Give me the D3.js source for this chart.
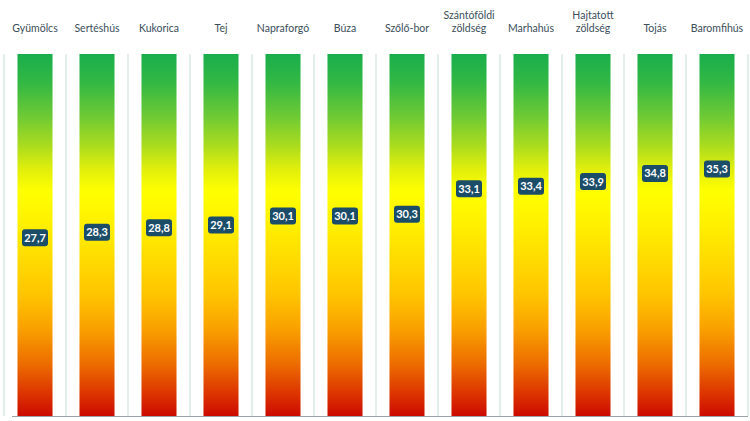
<!DOCTYPE html>
<html>
<head>
<meta charset="utf-8">
<script src="https://cdn.jsdelivr.net/npm/d3@7"></script>
<style>
  html, body { margin: 0; padding: 0; background: #ffffff; }
  svg { display: block; }
</style>
</head>
<body>
<svg id="chart" width="750" height="421"></svg>
<script>
const categories = ["Gyümölcs", "Sertéshús", "Kukorica", "Tej", "Napraforgó", "Búza", "Szőlő-bor", "Szántóföldi zöldség", "Marhahús", "Hajtatott zöldség", "Tojás", "Baromfihús"];
const values = [27.7, 28.3, 28.8, 29.1, 30.1, 30.1, 30.3, 33.1, 33.4, 33.9, 34.8, 35.3];
const valueDomain = [8, 48];

(function () {
const svg = d3.select("#chart");
const plotTop = 54, plotBottom = 416, plotLeft = 4, plotRight = 748;

const x = d3.scaleBand().domain(categories).range([plotLeft, plotRight]).paddingInner(0.435).paddingOuter(0.2175);
const y = d3.scaleLinear().domain(valueDomain).range([plotBottom, plotTop]);
const step = x.step();

// gradient
const defs = svg.append("defs");
const grad = defs.append("linearGradient")
  .attr("id", "g").attr("x1", 0).attr("y1", 0).attr("x2", 0).attr("y2", 1);
const stops = [
  [0, "#19ae4c"], [0.08, "#33b844"], [0.17, "#6cc934"], [0.25, "#a8db1f"], [0.32, "#e2ef0b"],
  [0.38, "#ffff00"], [0.46, "#fff200"], [0.54, "#ffe100"], [0.66, "#ffc600"], [0.76, "#f9a000"],
  [0.86, "#ec6a00"], [0.95, "#da2c00"], [1, "#cc0a00"]
];
grad.selectAll("stop").data(stops).join("stop")
  .attr("offset", d => d[0]).attr("stop-color", d => d[1]);

// separators
const seps = d3.range(categories.length + 1).map(i => plotLeft + i * step);
svg.append("g").selectAll("line").data(seps).join("line")
  .attr("x1", d => d).attr("x2", d => d)
  .attr("y1", plotTop).attr("y2", plotBottom)
  .attr("stroke", "#cfe2df").attr("stroke-width", 1.2);

// bars
svg.append("g").selectAll("rect").data(categories).join("rect")
  .attr("x", d => x(d)).attr("width", x.bandwidth())
  .attr("y", y(valueDomain[1])).attr("height", y(valueDomain[0]) - y(valueDomain[1]))
  .attr("fill", "url(#g)");

// axis line
svg.append("line").attr("x1", plotLeft + 8).attr("x2", plotRight).attr("y1", plotBottom + 0.5).attr("y2", plotBottom + 0.5)
  .attr("stroke", "#9aa4a8").attr("stroke-width", 1.2);

// category labels
const lab = svg.append("g").selectAll("text").data(categories).join("text")
  .attr("text-anchor", "middle")
  .attr("font-family", "Lato, 'Open Sans', sans-serif")
  .attr("font-size", 10.5)
  .attr("fill", "#3b4e5a");
lab.each(function(d) {
  const parts = d.split(" ");
  const t = d3.select(this);
  parts.forEach((p, i) => {
    t.append("tspan").attr("x", x(d) + x.bandwidth() / 2)
      .attr("y", 32 - (parts.length - 1 - i) * 13.5).text(p);
  });
});

// value labels
const vg = svg.append("g").selectAll("g").data(values).join("g")
  .attr("transform", (d, i) => `translate(${x(categories[i]) + x.bandwidth() / 2},${y(d)})`);
vg.append("rect").attr("x", -13).attr("y", -8.5).attr("width", 26).attr("height", 17)
  .attr("rx", 3).attr("fill", "#1b4d68");
vg.append("text").attr("text-anchor", "middle").attr("dy", "0.36em")
  .attr("font-family", "Lato, 'Open Sans', sans-serif").attr("font-size", 11).attr("font-weight", "bold")
  .attr("fill", "#ffffff")
  .text(d => d3.format(".1f")(d).replace(".", ","));
})();
</script>
</body>
</html>
